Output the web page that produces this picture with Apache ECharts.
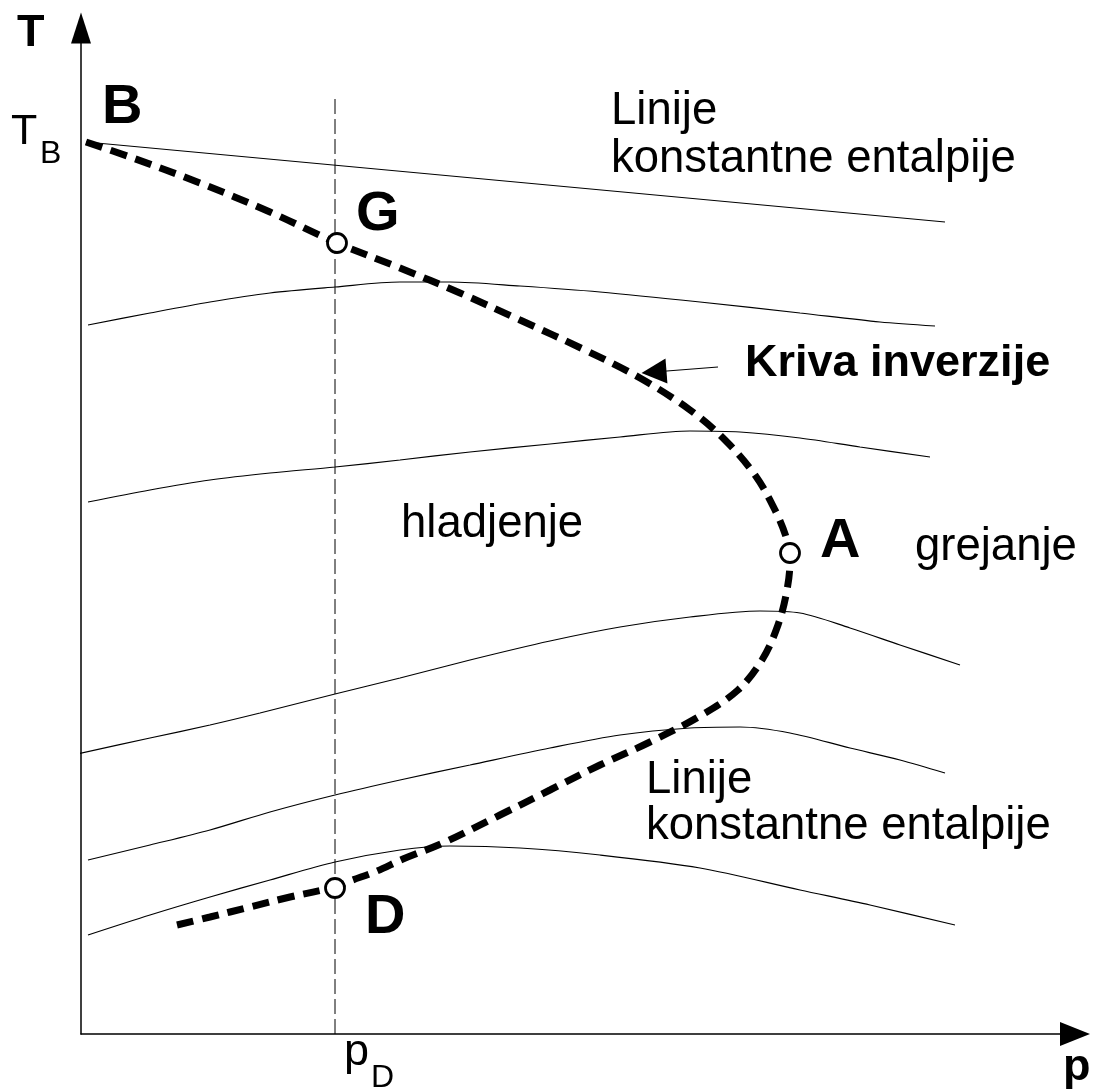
<!DOCTYPE html>
<html>
<head>
<meta charset="utf-8">
<title>Kriva inverzije</title>
<script src="https://cdn.jsdelivr.net/npm/echarts@6/dist/echarts.min.js"></script>
<style>
  html, body { margin: 0; padding: 0; background: #fff; }
  #chart { width: 1097px; height: 1090px; }
</style>
</head>
<body>
<div id="chart"></div>
<script>
// Joule-Thomson inversion curve in the p-T plane (schematic units)
const inversionCurve = [
  [0.5, 89.2], [4.9, 87.7], [11.9, 85.1], [18.9, 82.2], [25.6, 79.1],
  [31.9, 76.6], [37.9, 74.1], [43.9, 71.4], [50.4, 68.4], [55.9, 65.6],
  [60.9, 62.4], [64.4, 59.4], [67.4, 55.9], [69.4, 52.4], [70.6, 49.4],
  [70.9, 47.4], [70.6, 44.4], [69.7, 40.9], [68.1, 37.4], [65.7, 34.4],
  [61.9, 31.8], [56.9, 29.2], [51.9, 26.9], [46.9, 24.4], [41.9, 21.9],
  [36.2, 19.1], [32.2, 17.5], [29.6, 16.3], [26.9, 15.3], [25.4, 14.7],
  [20.9, 13.7], [16.9, 12.7], [12.9, 11.7], [9.6, 10.9]
];

// Lines of constant enthalpy, top to bottom
const enthalpy1 = [[0.5, 89.2], [86.4, 81.2]];
const enthalpy2 = [
  [0.7, 70.9], [6.9, 72.1], [12.9, 73.2], [18.9, 74.1], [25.4, 74.7],
  [31.9, 75.2], [36.9, 75.2], [43.9, 74.8], [51.9, 74.2], [61.9, 73.2],
  [71.9, 72.1], [79.9, 71.2], [85.4, 70.8]
];
const enthalpy3 = [
  [0.7, 53.2], [6.9, 54.4], [12.9, 55.4], [18.9, 56.1], [25.4, 56.7],
  [31.9, 57.4], [38.9, 58.2], [46.9, 59.0], [53.9, 59.7], [60.9, 60.3],
  [65.9, 60.2], [71.9, 59.6], [77.9, 58.7], [84.9, 57.7]
];
const enthalpy4 = [
  [-0.4, 28.0], [6.9, 29.6], [12.9, 30.9], [17.9, 32.1], [25.4, 34.0],
  [31.9, 35.6], [38.9, 37.4], [46.9, 39.3], [53.9, 40.7], [60.9, 41.7],
  [67.9, 42.3], [71.9, 42.1], [76.9, 40.6], [81.9, 38.9], [87.9, 36.9]
];
const enthalpy5 = [
  [0.7, 17.4], [6.9, 18.9], [12.9, 20.4], [18.9, 22.2], [25.4, 23.9],
  [31.9, 25.4], [38.9, 26.9], [46.9, 28.6], [53.9, 29.9], [60.9, 30.6],
  [65.9, 30.7], [70.9, 30.1], [76.9, 28.6], [81.9, 27.4], [86.4, 26.1]
];
const enthalpy6 = [
  [0.7, 9.9], [6.9, 11.9], [12.9, 13.7], [18.9, 15.4], [25.4, 17.2],
  [31.9, 18.4], [36.9, 18.8], [43.9, 18.6], [51.9, 17.9], [61.9, 16.6],
  [71.9, 14.4], [78.9, 12.9], [87.4, 10.9]
];
const enthalpyLines = [enthalpy1, enthalpy2, enthalpy3, enthalpy4, enthalpy5, enthalpy6];

// Marked states on the inversion curve
const stateNames = ['G', 'A', 'D'];
const stateValues = [[25.6, 79.1], [70.9, 48.1], [25.4, 14.6]];

// Pressure p_D (vertical guide) and its top end
const pressureD = 25.4;
const guideTop = 93.9;

// Pointer from the "Kriva inverzije" caption to the curve
const pointer = [[63.7, 66.7], [57.3, 66.2]];

const FONT = '"Liberation Sans", Arial, sans-serif';

function txt(text, x, y, size, bold) {
  return {
    type: 'text', x: x, y: y, silent: true,
    style: {
      text: text, fill: '#000', fontFamily: FONT, fontSize: size,
      fontWeight: bold ? 'bold' : 'normal', align: 'left', verticalAlign: 'middle'
    }
  };
}

const lineSeries = enthalpyLines.map(function (pts) {
  return {
    type: 'line', data: pts, showSymbol: false, smooth: 0.3, clip: false, silent: true,
    lineStyle: { color: '#000', width: 1.2 }, z: 2
  };
});

const chart = echarts.init(document.getElementById('chart'), null, { renderer: 'canvas' });

chart.setOption({
  animation: false,
  backgroundColor: '#fff',
  grid: { left: 81, right: 22, top: 28, bottom: 56, containLabel: false, outerBoundsMode: 'none' },
  xAxis: {
    type: 'value', min: 0, max: 99.4,
    splitLine: { show: false }, axisTick: { show: false }, axisLabel: { show: false },
    axisLine: { show: true, onZero: false, symbol: ['none', 'triangle'], symbolSize: [24, 30],
      lineStyle: { color: '#000', width: 1.5 } }
  },
  yAxis: {
    type: 'value', min: 0, max: 100.6,
    splitLine: { show: false }, axisTick: { show: false }, axisLabel: { show: false },
    axisLine: { show: true, onZero: false, symbol: ['none', 'triangle'], symbolSize: [20, 31],
      lineStyle: { color: '#000', width: 1.5 } }
  },
  series: lineSeries.concat([
    {
      type: 'line', data: [[pressureD, 0], [pressureD, guideTop]], showSymbol: false, silent: true,
      lineStyle: { color: '#000', width: 1, type: [15, 5] }, z: 1
    },
    {
      type: 'line', data: inversionCurve, showSymbol: false, smooth: 0.35, clip: false, silent: true,
      lineStyle: { color: '#000', width: 7, type: [17, 9], cap: 'butt' }, z: 3
    },
    {
      type: 'lines', coordinateSystem: 'cartesian2d', silent: true, z: 4,
      symbol: ['none', 'triangle'], symbolSize: 25,
      lineStyle: { color: '#000', width: 1.2, opacity: 1 },
      data: [{ coords: pointer }]
    },
    {
      type: 'scatter', silent: true, z: 5,
      data: stateValues.map(function (v, i) { return { name: stateNames[i], value: v }; }),
      symbol: 'circle', symbolSize: 19,
      itemStyle: { color: '#fff', borderColor: '#000', borderWidth: 2.8, opacity: 1 }
    }
  ]),
  graphic: [
    txt('T', 17, 34, 45, true),
    txt('T', 11, 132, 43, false),
    txt('B', 40, 154, 32, false),
    txt('B', 102, 108, 56, true),
    txt('G', 356, 215, 56, true),
    txt('A', 820, 542, 56, true),
    txt('D', 365, 918, 56, true),
    txt('Linije', 611, 111, 45.5, false),
    txt('konstantne entalpije', 611, 159, 45.5, false),
    txt('Kriva inverzije', 745, 364, 45, true),
    txt('hladjenje', 401, 524, 45.5, false),
    txt('grejanje', 915, 547, 45.5, false),
    txt('Linije', 646, 780, 45.5, false),
    txt('konstantne entalpije', 646, 826, 45.5, false),
    txt('p', 344, 1053, 45, false),
    txt('D', 371, 1078, 32, false),
    txt('p', 1063, 1068, 45, true)
  ]
});
</script>
</body>
</html>
